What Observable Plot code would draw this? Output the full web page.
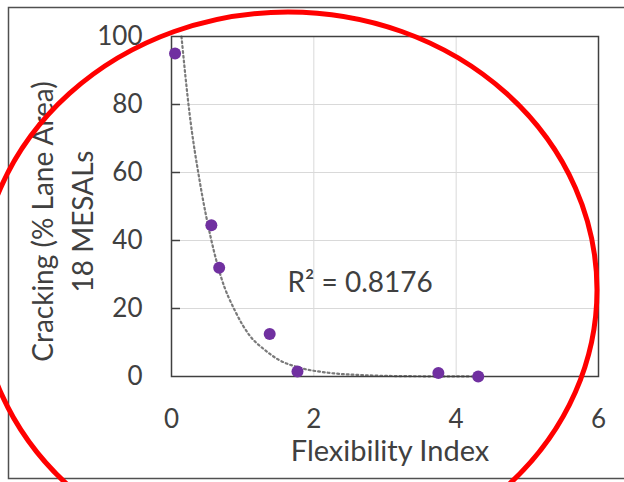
<!DOCTYPE html>
<html>
<head>
<meta charset="utf-8">
<script src="https://cdn.jsdelivr.net/npm/d3@7"></script>
<script src="https://cdn.jsdelivr.net/npm/@observablehq/plot@0.6"></script>
<style>
  html, body { margin: 0; padding: 0; background: #fff; }
  #chart { width: 624px; height: 482px; overflow: hidden; }
</style>
</head>
<body>
<div id="chart"></div>
<script>
// Observed data points (Flexibility Index vs Cracking % lane area, 18 MESALs)
const flexIndex = [0.05, 0.56, 0.67, 1.38, 1.77, 3.75, 4.31];
const cracking  = [95, 44.5, 32, 12.5, 1.5, 1.0, 0.0];

// Trendline (exponential fit)
const trendX = [0.14, 0.25, 0.40, 0.55, 0.70, 0.90, 1.10, 1.30, 1.50, 1.80, 2.20, 2.70, 3.30, 4.33];
const trendY = [100, 78, 57, 41, 29, 19, 12, 8, 5, 2.6, 1.1, 0.4, 0.1, 0.0];

const xTicks = [0, 2, 4, 6];
const yTicks = [0, 20, 40, 60, 80, 100];
const yInnerTicks = [20, 40, 60, 80];
const xGrid = [2, 4];
const r2Label = "R² = 0.8176";
const xLabel = "Flexibility Index";
const yLabel = "Cracking (% Lane Area)\n18 MESALs";

const points = flexIndex.map((x, i) => ({x, y: cracking[i]}));
const trend = trendX.map((x, i) => ({x, y: trendY[i]}));

const FS = 26;
const LFS = 28;
const plot = Plot.plot({
  width: 624,
  height: 482,
  marginLeft: 171,
  marginRight: 26,
  marginTop: 36,
  marginBottom: 106,
  style: {fontFamily: "Lato, 'Open Sans', sans-serif", fontSize: FS + "px", color: "#404040", background: "#fff", overflow: "visible"},
  x: {domain: [0, 6]},
  y: {domain: [0, 100]},
  marks: [
    Plot.gridX(xGrid, {stroke: "#d9d9d9", strokeOpacity: 1, strokeWidth: 1}),
    Plot.gridY(yInnerTicks, {stroke: "#d9d9d9", strokeOpacity: 1, strokeWidth: 1}),
    Plot.axisY(yTicks, {tickSize: 0, tickPadding: 29, label: null, fontSize: FS}),
    Plot.axisY(yInnerTicks, {tickSize: -9, tickFormat: () => "", label: null, stroke: "#404040", strokeWidth: 1.5}),
    Plot.axisX(xTicks, {tickSize: 0, tickPadding: 33, label: null, fontSize: FS}),
    Plot.line(trend, {x: "x", y: "y", curve: "monotone-x", stroke: "#7a7a7a", strokeWidth: 2.2, strokeDasharray: "1.8,3"}),
    Plot.frame({stroke: "#404040", strokeWidth: 1.5}),
    Plot.dot(points, {x: "x", y: "y", r: 6, fill: "#7030a0", stroke: "none"}),
    Plot.text([r2Label], {x: 1.63, y: 27.4, text: d => d, textAnchor: "start", fontSize: LFS, fill: "#404040"}),
    Plot.text([xLabel], {frameAnchor: "bottom", textAnchor: "middle", dy: 84, dx: 5, text: d => d, fontSize: LFS + 1, fill: "#404040"}),
    Plot.text([yLabel], {frameAnchor: "left", textAnchor: "middle", rotate: -90, dx: -111, dy: 15, text: d => d, fontSize: 28, lineHeight: 40 / 28, fill: "#404040"})
  ]
});

// Annotation overlay: outer chart border and hand-drawn red ellipse
const svg = d3.select(plot);
svg.append("rect")
  .attr("x", 8.5).attr("y", 7.5).attr("width", 700).attr("height", 471)
  .attr("fill", "none").attr("stroke", "#505050").attr("stroke-width", 1.5);
svg.append("ellipse")
  .attr("cx", 288).attr("cy", 290).attr("rx", 309).attr("ry", 278)
  .attr("fill", "none").attr("stroke", "#ff0000").attr("stroke-width", 5);

document.getElementById("chart").appendChild(plot);
</script>
</body>
</html>
